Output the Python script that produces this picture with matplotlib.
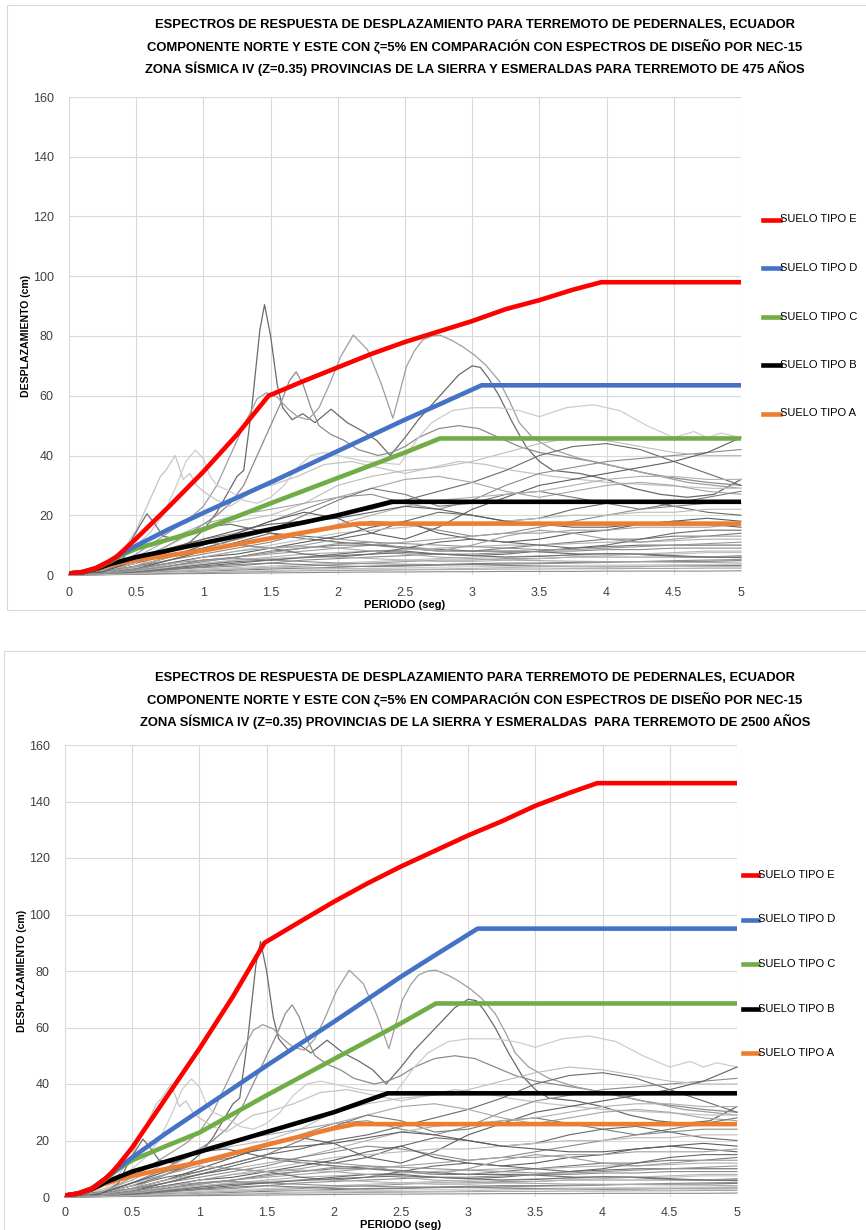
import matplotlib
matplotlib.use("Agg")
import matplotlib.pyplot as plt
from matplotlib.patches import Rectangle
from matplotlib.lines import Line2D

plt.rcParams['font.family'] = ['Liberation Sans', 'DejaVu Sans']

W, H = 866, 1230

# ---------------- NEC-15 design displacement spectra (cm) ----------------
# Return period 475 years
t_e_475 = [0, 0.1, 0.2, 0.3, 0.35, 0.4, 0.5, 0.75, 1.0, 1.25, 1.485, 1.75, 2.0, 2.25, 2.5, 2.75, 3.0, 3.25, 3.5, 3.75, 3.96, 5.0]
d_e_475 = [0.5, 1.0, 2.3, 4.6, 6.0, 8.0, 12.2, 23.2, 34.6, 47.0, 60.0, 65.0, 69.5, 74.0, 78.0, 81.5, 85.0, 89.0, 92.0, 95.5, 98.0, 98.0]
t_d_475 = [0, 0.1, 0.2, 0.3, 0.35, 0.5, 0.75, 1.0, 1.5, 2.0, 2.5, 2.75, 3.07, 5.0]
d_d_475 = [0.5, 1.0, 2.3, 4.6, 6.0, 9.8, 15.5, 20.8, 31.0, 41.5, 52.0, 57.0, 63.5, 63.5]
t_c_475 = [0, 0.1, 0.2, 0.3, 0.4, 0.5, 0.75, 1.0, 1.5, 2.0, 2.5, 2.76, 5.0]
d_c_475 = [0.5, 1.0, 2.2, 4.4, 6.8, 8.8, 12.0, 15.2, 24.0, 32.5, 41.0, 45.7, 45.7]
t_b_475 = [0, 0.1, 0.2, 0.3, 0.5, 0.75, 1.0, 1.5, 2.0, 2.4, 5.0]
d_b_475 = [0.5, 0.9, 2.0, 3.6, 6.0, 8.3, 10.7, 15.3, 20.0, 24.5, 24.5]
t_a_475 = [0, 0.1, 0.2, 0.3, 0.5, 0.75, 1.0, 1.5, 2.0, 2.16, 5.0]
d_a_475 = [0.5, 0.9, 1.9, 3.3, 5.0, 6.6, 8.2, 12.3, 16.2, 17.2, 17.2]

# Return period 2500 years
t_e_2500 = [0, 0.1, 0.2, 0.3, 0.35, 0.4, 0.5, 0.75, 1.0, 1.25, 1.485, 1.75, 2.0, 2.25, 2.5, 2.75, 3.0, 3.25, 3.5, 3.75, 3.96, 5.0]
d_e_2500 = [0.5, 1.3, 3.0, 6.5, 8.8, 11.5, 17.5, 35.0, 52.5, 71.0, 90.0, 97.5, 104.5, 111.0, 117.0, 122.5, 128.0, 133.0, 138.5, 143.0, 146.5, 146.5]
t_d_2500 = [0, 0.1, 0.2, 0.3, 0.35, 0.5, 0.75, 1.0, 1.5, 2.0, 2.5, 2.75, 3.07, 5.0]
d_d_2500 = [0.5, 1.3, 3.0, 6.5, 8.5, 14.0, 22.5, 30.5, 46.5, 62.0, 78.0, 85.5, 95.0, 95.0]
t_c_2500 = [0, 0.1, 0.2, 0.3, 0.4, 0.5, 0.75, 1.0, 1.5, 2.0, 2.5, 2.76, 5.0]
d_c_2500 = [0.5, 1.3, 3.0, 6.3, 10.0, 13.0, 18.0, 22.8, 36.0, 48.8, 61.5, 68.5, 68.5]
t_b_2500 = [0, 0.1, 0.2, 0.3, 0.5, 0.75, 1.0, 1.5, 2.0, 2.4, 5.0]
d_b_2500 = [0.5, 1.2, 2.8, 5.2, 9.0, 12.5, 16.0, 23.0, 30.0, 36.7, 36.7]
t_a_2500 = [0, 0.1, 0.2, 0.3, 0.5, 0.75, 1.0, 1.5, 2.0, 2.16, 5.0]
d_a_2500 = [0.5, 1.2, 2.6, 4.8, 7.5, 9.9, 12.3, 18.5, 24.3, 25.8, 25.8]

soil_labels = ['SUELO TIPO E', 'SUELO TIPO D', 'SUELO TIPO C', 'SUELO TIPO B', 'SUELO TIPO A']
soil_colors = ['#ff0000', '#4472c4', '#70ad47', '#000000', '#ed7d31']

# ---------------- Recorded spectra, Pedernales earthquake (N and E) ----------------
rec_a_t = [0, 0.3, 0.5, 0.7, 0.9, 1.0, 1.1, 1.2, 1.25, 1.3, 1.36, 1.42, 1.455, 1.5, 1.55, 1.59, 1.66, 1.74, 1.83, 1.95, 2.07, 2.19, 2.29, 2.39, 2.5, 2.6, 2.7, 2.8, 2.9, 3.0, 3.06, 3.12, 3.2, 3.3, 3.4, 3.5, 3.6, 3.8, 4.0, 4.2, 4.4, 4.6, 4.8, 5.0]
rec_a_d = [0.2, 1.5, 4, 7, 11, 15, 21, 29, 33, 35, 56, 82, 90.5, 80, 63.5, 56, 52, 54, 51, 55.5, 51, 48, 45, 40, 46, 52, 57, 62, 67, 70, 69.5, 66, 60, 51, 43, 38, 35, 34, 32, 29, 27, 26, 27, 32]

rec_b_t = [0, 0.3, 0.5, 0.7, 0.9, 1.0, 1.1, 1.2, 1.3, 1.4, 1.5, 1.58, 1.64, 1.69, 1.74, 1.8, 1.86, 1.95, 2.05, 2.15, 2.3, 2.4, 2.5, 2.6, 2.75, 2.9, 3.05, 3.2, 3.35, 3.5, 3.7, 3.9, 4.1, 4.3, 4.5, 4.75, 5.0]
rec_b_d = [0.2, 1.5, 5, 9, 14, 17, 20, 24, 30, 40, 50, 58, 65, 68, 64, 56, 50, 47, 45, 42, 40, 41, 43, 46, 49, 50, 49, 46, 43, 41, 39.5, 38, 36, 34, 32.5, 31, 30]

rec_c_t = [0, 0.3, 0.5, 0.7, 0.9, 1.0, 1.1, 1.2, 1.3, 1.4, 1.47, 1.55, 1.62, 1.7, 1.78, 1.86, 1.94, 2.02, 2.115, 2.22, 2.32, 2.41, 2.46, 2.51, 2.57, 2.63, 2.7, 2.76, 2.85, 2.93, 3.02, 3.1, 3.2, 3.28, 3.35, 3.45, 3.6, 3.8, 4.0, 4.3, 4.6, 5.0]
rec_c_d = [0.2, 2, 7, 13, 19, 23, 30, 40, 50, 59, 61, 59.5, 56, 53, 52, 56, 64, 73, 80.3, 75.5, 64.4, 52.5, 61, 69.7, 75, 78.6, 80, 80.3, 78.5, 76.4, 73.5, 70.3, 65, 58, 51, 46, 42, 39, 37, 34, 31, 29]

rec_e_t = [0, 0.3, 0.4, 0.5, 0.6, 0.68, 0.72, 0.79, 0.85, 0.9, 0.95, 1.0, 1.1, 1.2, 1.3, 1.4, 1.5, 1.7, 1.9, 2.1, 2.3, 2.5, 2.7, 2.9, 3.1, 3.3, 3.6, 4.0, 4.4, 4.8, 5.0]
rec_e_d = [0.2, 3, 8, 15, 25, 33, 35, 40, 32, 34, 30, 28, 25, 23, 26, 29, 30, 33, 37, 38, 36, 34, 36, 38, 37, 35, 33, 31, 30, 29, 29]

rec_f_t = [0, 0.3, 0.4, 0.5, 0.6, 0.7, 0.8, 0.87, 0.94, 1.0, 1.05, 1.1, 1.2, 1.3, 1.4, 1.5, 1.6, 1.7, 1.8, 1.9, 2.0, 2.2, 2.46, 2.6, 2.7, 2.85, 3.0, 3.2, 3.35, 3.5, 3.7, 3.9, 4.1, 4.3, 4.5, 4.65, 4.75, 4.85, 5.0]
rec_f_d = [0.2, 2.5, 6, 10, 14, 20, 30, 38, 41.8, 39, 33, 30, 28, 25, 24, 26, 30, 36, 40, 41, 40, 38, 37, 46, 51, 55, 56, 56, 55, 53, 56, 57, 55, 50, 46, 48, 46, 47.5, 46]

rec_g_t = [0, 0.3, 0.4, 0.47, 0.52, 0.58, 0.64, 0.7, 0.8, 0.9, 1.0, 1.2, 1.4, 1.6, 1.8, 2.0, 2.3, 2.6, 3.0, 3.4, 3.8, 4.2, 4.6, 5.0]
rec_g_d = [0.2, 2, 5, 12, 16, 20.5, 17, 13, 12, 14, 16, 17, 15, 13, 12, 11, 10, 9, 8, 8, 7, 7, 6, 6]

# Remaining records on a common period grid (s)
t_grid = [0, 0.25, 0.5, 0.75, 1.0, 1.25, 1.5, 1.75, 2.0, 2.25, 2.5, 2.75, 3.0, 3.25, 3.5, 3.75, 4.0, 4.25, 4.5, 4.75, 5.0]
rec_01 = [0.2, 1.2, 4, 7, 9, 12, 15, 17, 20, 22, 25, 28, 31, 35, 40, 43, 44, 42, 38, 34, 30]
rec_02 = [0.2, 1.5, 5, 8, 12, 14, 18, 22, 26, 27, 24, 22, 25, 30, 34, 36, 38, 39, 40, 41, 42]
rec_03 = [0.2, 1.0, 4, 10, 16, 18, 20, 24, 30, 33, 35, 36, 38, 41, 44, 46, 45, 43, 41, 40, 40]
rec_04 = [0.1, 1.0, 3, 6, 10, 14, 18, 21, 19, 14, 12, 16, 22, 26, 30, 32, 34, 36, 38, 41, 46]
rec_05 = [0.2, 1.5, 6, 12, 17, 20, 22, 24, 26, 29, 32, 33, 31, 28, 26, 28, 30, 31, 30, 28, 27]
rec_06 = [0.1, 1.0, 3, 6, 9, 12, 15, 20, 25, 29, 27, 23, 24, 27, 28, 26, 24, 22, 24, 26, 28]
rec_07 = [0.1, 0.8, 3, 6, 8, 10, 12, 14, 17, 20, 23, 25, 26, 27, 28, 30, 32, 33, 33, 32, 32]
rec_08 = [0.1, 0.8, 2.5, 5, 8, 11, 14, 13, 12, 14, 18, 21, 20, 18, 19, 22, 24, 25, 23, 21, 20]
rec_09 = [0.1, 1.0, 3, 5, 7, 9, 11, 14, 16, 18, 17, 15, 13, 14, 16, 18, 20, 22, 23, 24, 24]
rec_10 = [0.1, 0.8, 2.5, 4, 6, 8, 10, 12, 14, 15, 16, 17, 17, 18, 19, 20, 20, 21, 21, 22, 22]
rec_11 = [0.1, 0.6, 2, 4, 6, 7, 9, 11, 13, 16, 18, 14, 12, 11, 12, 14, 15, 17, 18, 17, 16]
rec_12 = [0.1, 0.5, 1.5, 3, 4.5, 6, 7, 8, 9, 10, 11, 12, 13, 14, 14, 15, 15, 16, 16, 16, 17]
rec_13 = [0.1, 0.5, 1.5, 3, 5, 6, 8, 9, 10, 10, 9, 8, 8, 9, 10, 11, 12, 12, 13, 13, 14]
rec_14 = [0, 0.4, 1.2, 2.5, 3.5, 5, 6, 7, 7.5, 8, 8.5, 9, 9.5, 10, 10, 10.5, 11, 11, 11.5, 12, 12]
rec_15 = [0, 0.4, 1, 2, 3, 4, 5, 6, 7, 8, 8, 7, 6.5, 7, 8, 9, 9.5, 10, 10, 10, 10]
rec_16 = [0, 0.3, 1, 1.8, 2.5, 3, 4, 5, 5.5, 6, 6.5, 7, 7, 7.5, 8, 8, 8.5, 8.5, 9, 9, 9]
rec_17 = [0, 0.3, 0.8, 1.5, 2, 2.5, 3, 3.5, 4, 4.5, 5, 5.5, 6, 6, 6.5, 6.5, 7, 7, 7, 7.5, 7.5]
rec_18 = [0, 0.2, 0.6, 1.2, 1.6, 2, 2.5, 3, 3.5, 4, 4.5, 5, 5, 5.5, 5.5, 6, 6, 6, 6, 6, 6.5]
rec_19 = [0, 0.2, 0.5, 1, 1.3, 1.6, 2, 2.3, 2.6, 3, 3.2, 3.5, 3.8, 4, 4, 4.2, 4.4, 4.5, 4.5, 4.6, 4.8]
rec_20 = [0, 0.1, 0.4, 0.7, 1, 1.3, 1.5, 1.8, 2, 2.2, 2.4, 2.6, 2.8, 3, 3, 3.2, 3.3, 3.4, 3.5, 3.5, 3.6]
rec_21 = [0, 0.1, 0.3, 0.5, 0.8, 1, 1.2, 1.4, 1.5, 1.6, 1.7, 1.8, 1.9, 2, 2, 2.1, 2.1, 2.2, 2.2, 2.3, 2.3]
rec_22 = [0, 0.1, 0.2, 0.4, 0.5, 0.6, 0.7, 0.8, 0.9, 1, 1, 1.1, 1.1, 1.2, 1.2, 1.2, 1.3, 1.3, 1.3, 1.3, 1.4]
rec_23 = [0, 0.5, 2, 5, 8, 10, 9, 7, 6, 7, 9, 11, 12, 11, 10, 9, 10, 12, 14, 15, 15]
rec_24 = [0, 0.6, 3, 8, 11, 10, 9, 10, 12, 11, 9, 8, 10, 13, 15, 14, 12, 11, 12, 13, 13]
rec_25 = [0, 1.0, 5, 9, 12, 15, 17, 18, 19, 21, 23, 22, 20, 18, 17, 16, 16, 17, 18, 19, 18]
rec_26 = [0, 0.3, 1.2, 2.5, 4, 5, 5.5, 6, 6, 5.5, 5, 4.5, 4.5, 5, 5.5, 6, 6.5, 7, 7.5, 8, 8]
rec_27 = [0, 0.5, 2, 4, 5, 5.5, 5, 4.5, 4, 3.8, 3.6, 3.5, 3.5, 3.6, 3.8, 4, 4.2, 4.5, 4.8, 5, 5.2]
rec_28 = [0, 0.4, 1.5, 3.5, 6, 8, 9, 9.5, 9, 8, 7, 6, 5.5, 5, 4.8, 4.6, 4.5, 4.4, 4.3, 4.2, 4]
rec_29 = [0, 0.2, 0.8, 1.8, 2.8, 3.5, 4, 3.5, 3, 2.8, 3, 3.3, 3.5, 3.2, 3, 2.8, 2.7, 2.8, 3, 3.1, 3.2]
rec_30 = [0, 0.3, 1, 2.2, 3.5, 4.5, 5, 5.8, 6.5, 7, 7.5, 7, 6.5, 6, 6.2, 6.8, 7.2, 7, 6.5, 6, 5.8]
rec_31 = [0, 0.1, 0.5, 1, 1.5, 2, 2.5, 2.4, 2.2, 2, 1.9, 2, 2.2, 2.5, 2.7, 2.8, 3, 3, 2.9, 2.8, 2.8]
rec_32 = [0, 0.4, 1.6, 3, 4.5, 6, 7.5, 9, 10.5, 11, 10.5, 10, 9.5, 9, 8.5, 8.5, 9, 9.5, 10, 10.5, 11]

records_main = [
    (rec_a_t, rec_a_d, '#6a6a6a'),
    (rec_b_t, rec_b_d, '#8c8c8c'),
    (rec_c_t, rec_c_d, '#9e9e9e'),
    (rec_e_t, rec_e_d, '#c4c4c4'),
    (rec_f_t, rec_f_d, '#cccccc'),
    (rec_g_t, rec_g_d, '#707070'),
]
records_grid = [
    (rec_01, '#6a6a6a'), (rec_02, '#8c8c8c'), (rec_03, '#bdbdbd'), (rec_04, '#5e5e5e'),
    (rec_05, '#a6a6a6'), (rec_06, '#7a7a7a'), (rec_07, '#b0b0b0'), (rec_08, '#6a6a6a'),
    (rec_09, '#8c8c8c'), (rec_10, '#bdbdbd'), (rec_11, '#5e5e5e'), (rec_12, '#a0a0a0'),
    (rec_13, '#7a7a7a'), (rec_14, '#b0b0b0'), (rec_15, '#6a6a6a'), (rec_16, '#8c8c8c'),
    (rec_17, '#c0c0c0'), (rec_18, '#999999'), (rec_19, '#7a7a7a'), (rec_20, '#cccccc'),
    (rec_21, '#a6a6a6'), (rec_22, '#8c8c8c'), (rec_23, '#6a6a6a'), (rec_24, '#9e9e9e'),
    (rec_25, '#5e5e5e'), (rec_26, '#b5b5b5'), (rec_27, '#909090'), (rec_28, '#a8a8a8'),
    (rec_29, '#808080'), (rec_30, '#6e6e6e'), (rec_31, '#b8b8b8'), (rec_32, '#969696'),
]

x_ticks = [0, 0.5, 1, 1.5, 2, 2.5, 3, 3.5, 4, 4.5, 5]
x_tick_labels = ['0', '0.5', '1', '1.5', '2', '2.5', '3', '3.5', '4', '4.5', '5']
y_ticks = [0, 20, 40, 60, 80, 100, 120, 140, 160]

title_475 = ['ESPECTROS DE RESPUESTA DE DESPLAZAMIENTO PARA TERREMOTO DE PEDERNALES, ECUADOR',
             'COMPONENTE NORTE Y ESTE CON ζ=5% EN COMPARACIÓN CON ESPECTROS DE DISEÑO POR NEC-15',
             'ZONA SÍSMICA IV (Z=0.35) PROVINCIAS DE LA SIERRA Y ESMERALDAS PARA TERREMOTO DE 475 AÑOS']
title_2500 = ['ESPECTROS DE RESPUESTA DE DESPLAZAMIENTO PARA TERREMOTO DE PEDERNALES, ECUADOR',
              'COMPONENTE NORTE Y ESTE CON ζ=5% EN COMPARACIÓN CON ESPECTROS DE DISEÑO POR NEC-15',
              'ZONA SÍSMICA IV (Z=0.35) PROVINCIAS DE LA SIERRA Y ESMERALDAS  PARA TERREMOTO DE 2500 AÑOS']

fig = plt.figure(figsize=(W / 100, H / 100), dpi=100)
fig.patch.set_facecolor('white')


def fx(px):
    return px / W


def fy(py):
    return 1 - py / H


def draw_panel(box, frame, title_lines, title_y, design, legend_pos, xlabel_y, ylabel_x, xpad):
    # chart frame
    x0, y0, x1, y1 = frame
    fig.add_artist(Rectangle((fx(x0), fy(y1)), fx(x1) - fx(x0), fy(y0) - fy(y1),
                             transform=fig.transFigure, fill=False,
                             edgecolor='#d9d9d9', linewidth=0.8))
    left, top, right, bottom = box
    ax = fig.add_axes([fx(left), fy(bottom), fx(right) - fx(left), fy(top) - fy(bottom)])
    ax.set_xlim(0, 5)
    ax.set_ylim(0, 160)
    ax.set_xticks(x_ticks)
    ax.set_xticklabels(x_tick_labels)
    ax.set_yticks(y_ticks)
    for s in ax.spines.values():
        s.set_visible(False)
    ax.grid(True, color='#d9d9d9', linewidth=0.8)
    ax.set_axisbelow(True)
    ax.tick_params(length=0, labelsize=9, colors='#404040')
    ax.tick_params(axis='x', pad=xpad)
    ax.tick_params(axis='y', pad=11)

    for t, d, c in records_main:
        ax.plot(t, d, color=c, linewidth=0.9, zorder=2, clip_on=False)
    for d, c in records_grid:
        ax.plot(t_grid, d, color=c, linewidth=0.8, zorder=2, clip_on=False)

    for (t, d), c in zip(design[::-1], soil_colors[::-1]):
        ax.plot(t, d, color=c, linewidth=3.3, zorder=3, solid_joinstyle='round',
                solid_capstyle='butt')

    for i, line in enumerate(title_lines):
        fig.text(fx(475), fy(title_y + 21.5 * i), line, ha='center', va='center',
                 fontsize=9.4, fontweight='bold', color='#000000')

    fig.text(fx(ylabel_x), fy((top + bottom) / 2), 'DESPLAZAMIENTO (cm)', rotation=90,
             ha='center', va='center', fontsize=7.6, fontweight='bold', color='#000000')
    fig.text(fx((left + right) / 2), fy(xlabel_y), 'PERIODO (seg)', ha='center',
             va='center', fontsize=8, fontweight='bold', color='#000000')

    lx0, lx1, ly0, dy = legend_pos
    for i, (lab, c) in enumerate(zip(soil_labels, soil_colors)):
        yy = fy(ly0 + dy * i)
        fig.add_artist(Line2D([fx(lx0), fx(lx1)], [yy, yy], transform=fig.transFigure,
                              color=c, linewidth=3.3))
        fig.text(fx(lx1), yy, lab, ha='left', va='center', fontsize=8, color='#000000')
    return ax


design_475 = [(t_e_475, d_e_475), (t_d_475, d_d_475), (t_c_475, d_c_475),
              (t_b_475, d_b_475), (t_a_475, d_a_475)]
design_2500 = [(t_e_2500, d_e_2500), (t_d_2500, d_d_2500), (t_c_2500, d_c_2500),
               (t_b_2500, d_b_2500), (t_a_2500, d_a_2500)]

draw_panel((69, 97, 741, 575), (7, 5, 880, 610), title_475, 25, design_475,
           (763, 780, 219.5, 48.5), 605, 26, 9)
draw_panel((65, 745, 737, 1197), (4, 651, 880, 1240), title_2500, 678, design_2500,
           (743, 758, 875, 44.5), 1225, 22, 7)

fig.savefig('out.png', dpi=100, facecolor='white')
